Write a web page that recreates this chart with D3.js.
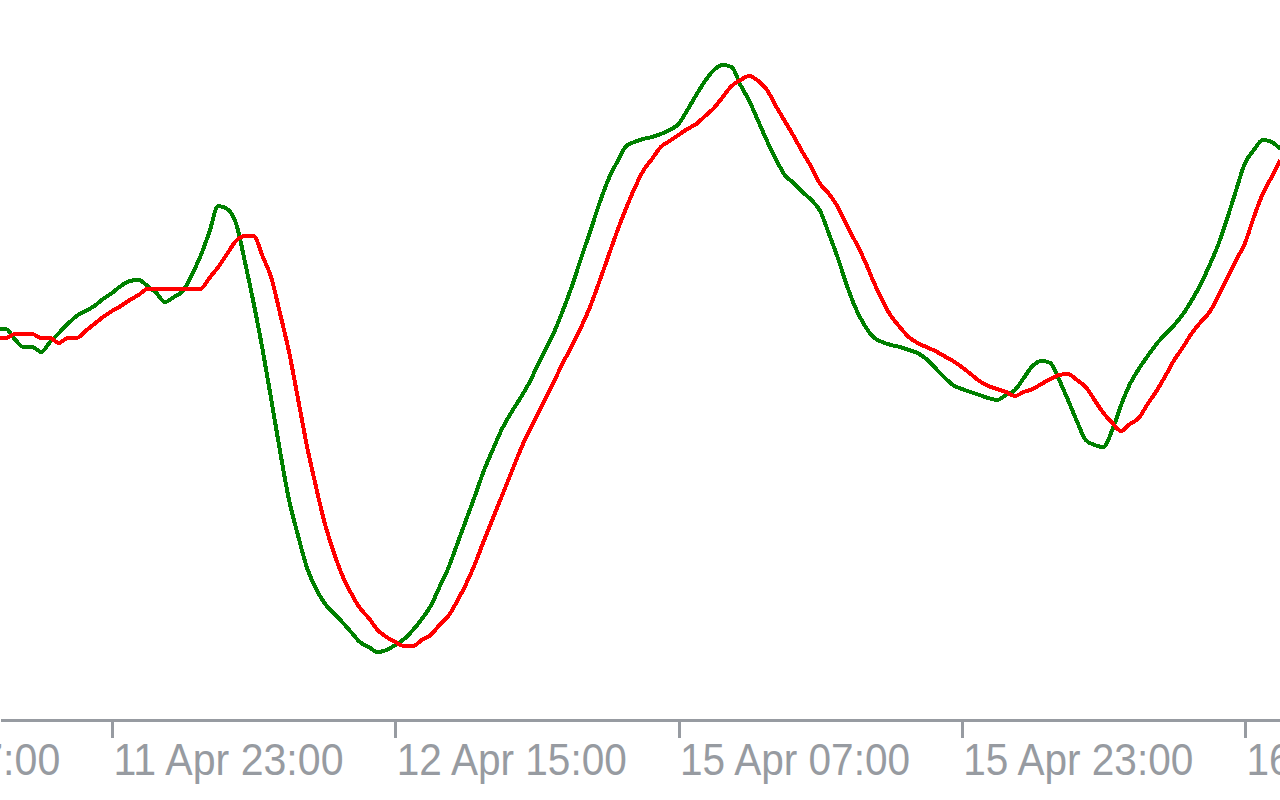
<!DOCTYPE html>
<html>
<head>
<meta charset="utf-8">
<script src="https://cdn.jsdelivr.net/npm/d3@7"></script>
<style>
  html, body { margin: 0; padding: 0; background: #ffffff; }
  svg { display: block; }
</style>
</head>
<body>
<svg id="chart" width="1280" height="800"></svg>
<script>
// Half-hour sample index of first value (index 0 = 11 Apr 07:00)
const startIndex = 19;

// Fast line (green)
const greenValues = [
  74.2, 74.2, 72.2, 70.6, 70.6, 69.6, 71.6, 73.4, 75.2, 76.8,
  77.8, 78.8, 80.2, 81.4, 82.8, 83.8, 84.0, 82.8, 81.4, 79.6,
  80.6, 81.8, 85.0, 88.8, 93.6, 98.8, 98.2, 95.4, 87.8, 79.4,
  70.2, 60.0, 49.6, 40.0, 33.0, 26.6, 22.4, 19.4, 17.4, 15.6,
  13.6, 11.6, 10.6, 9.6, 10.0, 11.0, 12.2, 14.0, 16.2, 18.8,
  22.6, 26.4, 31.2, 36.0, 40.8, 45.8, 50.0, 54.0, 57.2, 60.0,
  63.0, 66.6, 70.2, 73.8, 78.2, 83.0, 88.4, 93.6, 99.0, 103.8,
  107.4, 110.6, 111.6, 112.2, 112.6, 113.2, 114.0, 115.2, 118.0, 121.0,
  123.8, 126.0, 127.0, 126.6, 123.0, 119.8, 115.8, 111.8, 108.2, 105.0,
  103.4, 101.6, 100.0, 97.8, 93.2, 88.4, 83.0, 78.4, 75.0, 72.6,
  71.6, 71.0, 70.6, 70.0, 69.4, 68.2, 66.4, 64.6, 63.0, 62.2,
  61.6, 61.0, 60.4, 60.0, 61.0, 62.0, 64.4, 66.8, 67.8, 67.4,
  64.0, 60.0, 55.8, 52.0, 51.0, 50.6, 54.0, 59.0, 63.2, 66.2,
  68.8, 71.2, 73.2, 75.0, 77.2, 80.0, 83.2, 87.0, 91.2, 96.4,
  102.0, 107.4, 110.0, 112.0, 111.6, 110.2
];

// Slow line (red)
const redValues = [
  72.4, 72.4, 73.2, 73.2, 73.2, 72.4, 72.4, 71.4, 72.4, 72.4,
  73.8, 75.2, 76.6, 77.8, 78.8, 80.0, 81.0, 82.2, 82.2, 82.2,
  82.2, 82.2, 82.2, 82.2, 84.4, 86.6, 89.2, 91.8, 92.8, 92.8,
  88.8, 84.4, 77.2, 69.6, 60.4, 51.0, 43.0, 35.6, 29.8, 25.0,
  21.4, 18.4, 16.4, 14.0, 12.6, 11.6, 10.8, 10.8, 12.0, 13.0,
  15.0, 16.8, 19.8, 23.2, 27.2, 31.8, 36.2, 40.6, 45.0, 49.4,
  53.4, 56.8, 60.4, 64.0, 67.6, 71.0, 74.6, 78.6, 83.4, 88.4,
  93.4, 98.0, 102.2, 105.8, 108.2, 110.6, 111.8, 113.0, 114.2, 115.2,
  116.8, 118.4, 120.6, 122.8, 124.0, 124.8, 123.8, 122.0, 118.8, 115.8,
  112.8, 109.6, 106.6, 103.2, 101.2, 98.6, 95.0, 91.6, 88.0, 83.8,
  80.0, 76.8, 74.6, 72.6, 71.4, 70.6, 69.8, 68.8, 67.8, 66.6,
  65.2, 63.8, 62.8, 62.2, 61.6, 60.8, 61.6, 62.2, 63.2, 64.2,
  65.0, 65.2, 64.0, 62.6, 60.0, 57.4, 55.4, 53.8, 55.2, 56.4,
  59.2, 61.8, 64.8, 68.0, 70.6, 73.4, 75.6, 77.6, 80.8, 84.4,
  88.0, 91.4, 96.6, 101.2, 104.6, 108.0
];

// Time axis ticks (every 16 hours = 32 half-hour samples)
const tickIndex = [0, 32, 64, 96, 128, 160];
const tickLabels = ["11 Apr 07:00", "11 Apr 23:00", "12 Apr 15:00", "15 Apr 07:00", "15 Apr 23:00", "16 Apr 15:00"];

const W = 1280, H = 800;
const axisColor = "#979ba1";
const svg = d3.select("#chart");

const x = d3.scaleLinear().domain([19.347, 163.95]).range([0, W]);
const y = d3.scaleLinear().domain([0, 140]).range([700, 0]);

const line = d3.line()
  .x((d, i) => x(startIndex + i))
  .y(d => y(d))
  .curve(d3.curveMonotoneX);

svg.append("path")
  .datum(greenValues)
  .attr("fill", "none")
  .attr("stroke", "#008000")
  .attr("stroke-width", 4)
  .attr("shape-rendering", "crispEdges")
  .attr("d", line);

svg.append("path")
  .datum(redValues)
  .attr("fill", "none")
  .attr("stroke", "#ff0000")
  .attr("stroke-width", 4)
  .attr("shape-rendering", "crispEdges")
  .attr("d", line);

const axis = d3.axisBottom(x)
  .tickValues(tickIndex)
  .tickSizeInner(18.5)
  .tickSizeOuter(0)
  .tickFormat((d, i) => tickLabels[i]);

const g = svg.append("g")
  .attr("transform", "translate(0,719.5)")
  .call(axis);

g.select(".domain")
  .attr("stroke", axisColor)
  .attr("stroke-width", 3)
  .attr("shape-rendering", "crispEdges");

g.selectAll(".tick line")
  .attr("stroke", axisColor)
  .attr("stroke-width", 3)
  .attr("shape-rendering", "crispEdges");

g.selectAll(".tick text")
  .attr("fill", axisColor)
  .attr("font-family", "'Liberation Sans', 'DejaVu Sans', sans-serif")
  .attr("font-size", 44)
  .attr("text-anchor", "start")
  .attr("x", 1)
  .attr("y", 55.5)
  .attr("dy", 0)
  .attr("textLength", 230)
  .attr("lengthAdjust", "spacingAndGlyphs");
</script>
</body>
</html>
